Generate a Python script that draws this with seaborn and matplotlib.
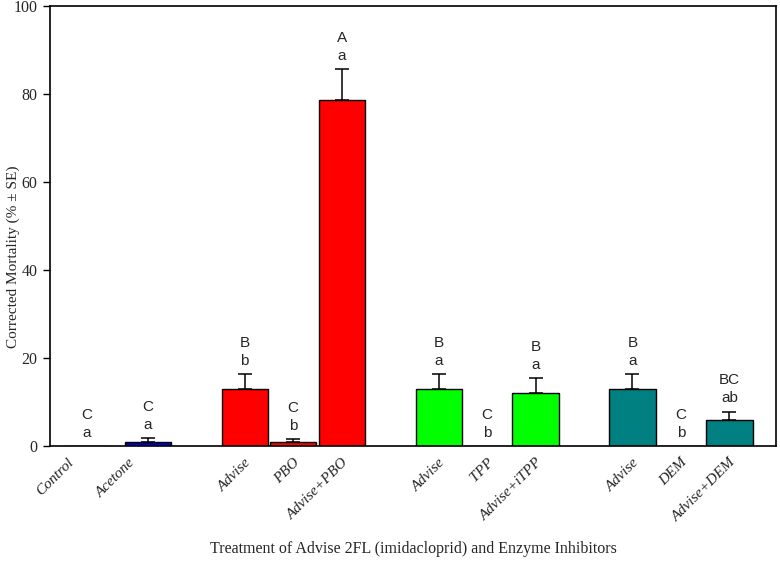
import matplotlib
matplotlib.use("Agg")
import numpy as np
import pandas as pd
import matplotlib.pyplot as plt
import matplotlib.transforms as mtransforms
import seaborn as sns

# ---------------- data ----------------
categories = ["Control", "Acetone", "Advise", "PBO", "Advise+PBO",
              "Advise", "TPP", "Advise+iTPP", "Advise", "DEM", "Advise+DEM"]
mortality = [0.0, 1.0, 13.0, 0.8, 78.6, 13.0, 0.0, 12.1, 13.0, 0.0, 5.8]
se = [0.0, 0.8, 3.4, 0.7, 7.0, 3.4, 0.0, 3.3, 3.4, 0.0, 2.0]
upper_letters = ["C", "C", "B", "C", "A", "B", "C", "B", "B", "C", "BC"]
lower_letters = ["a", "a", "b", "b", "a", "a", "b", "a", "a", "b", "ab"]
group = ["control", "acetone", "pbo", "pbo", "pbo",
         "tpp", "tpp", "tpp", "dem", "dem", "dem"]

# ---------------- layout ----------------
slot = [0.0, 1.26, 3.25, 4.25, 5.25, 7.25, 8.25, 9.25, 11.25, 12.25, 13.25]
palette = {"control": "#FFFFFF", "acetone": "#0000C8", "pbo": "#FF0000",
           "tpp": "#00FF00", "dem": "#008080"}

sns.set_theme(style="white")
plt.rcParams['font.family'] = ['Liberation Serif', 'DejaVu Serif']

df = pd.DataFrame({"pos": slot, "mortality": mortality, "se": se,
                   "group": group})

fig = plt.figure(figsize=(7.8, 5.76), dpi=100)
ax = fig.add_axes([0.0641, 0.2257, 0.9308, 0.7639])

sns.barplot(data=df, x="pos", y="mortality", hue="group", palette=palette,
            native_scale=True, width=0.95, edgecolor="black", linewidth=1.0,
            saturation=1, errorbar=None, legend=False, ax=ax)

err = df[df["se"] > 0]
ax.errorbar(err["pos"], err["mortality"],
            yerr=[np.zeros(len(err)), err["se"]], fmt="none",
            ecolor="black", elinewidth=1.1, capsize=4.7, capthick=1.1,
            zorder=1)

for x, m, s, up, lo in zip(slot, mortality, se, upper_letters, lower_letters):
    top = m + s
    ax.annotate(lo, (x, top), xytext=(0, 9.5), textcoords="offset points",
                ha="center", va="center", fontsize=11,
                family=["Liberation Sans", "DejaVu Sans"])
    ax.annotate(up, (x, top), xytext=(0, 22.5), textcoords="offset points",
                ha="center", va="center", fontsize=11,
                family=["Liberation Sans", "DejaVu Sans"])

ax.set_xlim(-0.763, 14.21)
ax.set_ylim(0, 100)
ax.set_yticks([0, 20, 40, 60, 80, 100])
ax.set_yticklabels(["0", "20", "40", "60", "80", "100"], fontsize=11.5)
ax.set_xticks(slot)
ax.set_xticklabels(categories, rotation=45, ha="right",
                   rotation_mode="anchor", fontstyle="italic", fontsize=11)
ax.tick_params(axis="x", length=0, pad=7)
ax.tick_params(axis="y", left=True, length=5, width=1.0, direction="out",
               pad=4, color="black")

# the first two labels sit a little further left in the original
shift = mtransforms.ScaledTranslation(-14 / 72, 0, fig.dpi_scale_trans)
for lbl in ax.get_xticklabels()[:2]:
    lbl.set_transform(lbl.get_transform() + shift)

for sp in ax.spines.values():
    sp.set_color("black")
    sp.set_linewidth(1.2)
    sp.set_visible(True)

ax.set_xlabel("Treatment of Advise 2FL (imidacloprid) and Enzyme Inhibitors",
              fontsize=11.5)
ax.set_ylabel("Corrected Mortality (% \u00b1 SE)", fontsize=11)
ax.xaxis.set_label_coords(0.5, -0.216)
ax.yaxis.set_label_coords(-0.042, 0.43)

fig.savefig("out.png", dpi=100)
